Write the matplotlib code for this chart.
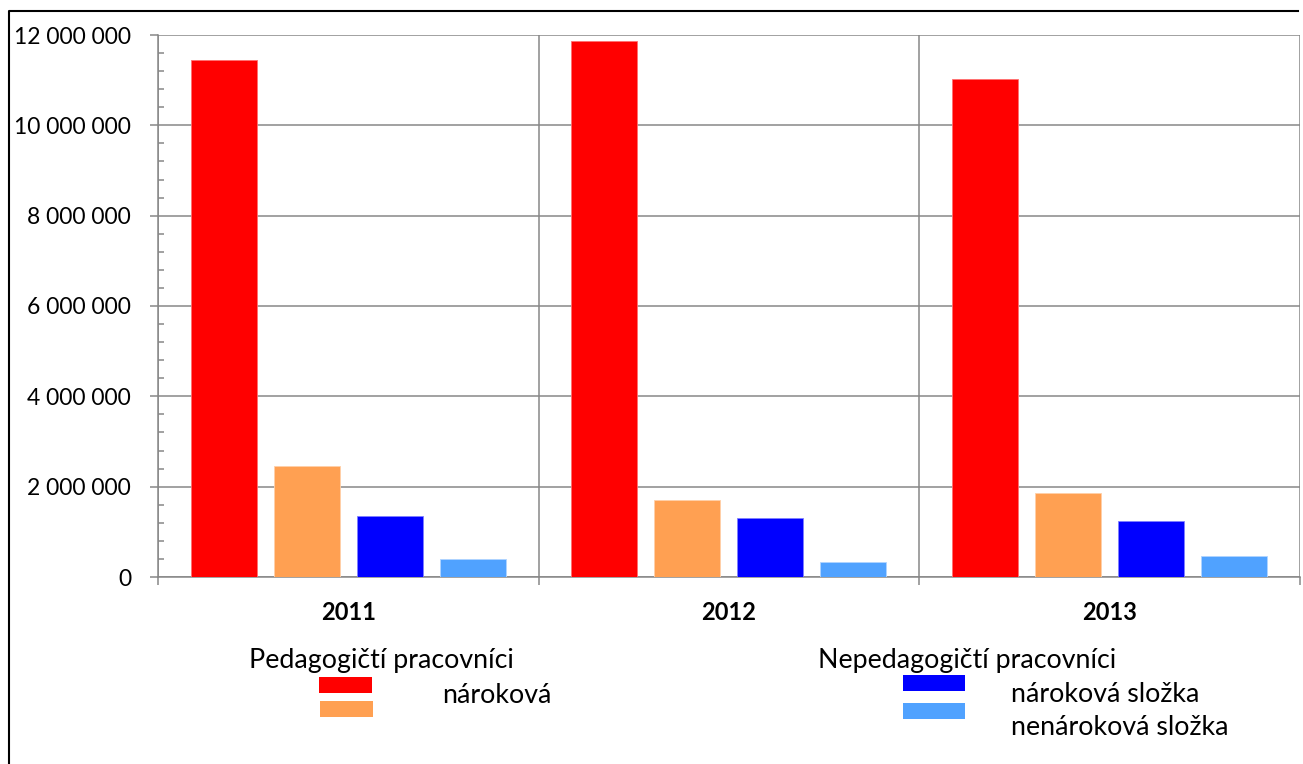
import matplotlib
matplotlib.use("Agg")
import matplotlib.pyplot as plt
from matplotlib.patches import Rectangle
from matplotlib.lines import Line2D
from matplotlib.ticker import MultipleLocator, FuncFormatter
import numpy as np

# ---- data ----
years = ["2011", "2012", "2013"]
series_names = ["Pedagogičtí nároková", "Pedagogičtí nenároková",
                "Nepedagogičtí nároková složka", "Nepedagogičtí nenároková složka"]
ped_narokova = [11450000, 11870000, 11030000]
ped_nenarokova = [2460000, 1700000, 1860000]
neped_narokova = [1350000, 1310000, 1240000]
neped_nenarokova = [400000, 330000, 460000]
colors = ["#FF0000", "#FFA052", "#0000FF", "#50A2FF"]
edge_colors = ["#FF7070", "#FFD0A8", "#8080FF", "#B0D4FF"]

W, H = 1303, 764
plt.rcParams['font.family'] = ['Lato', 'DejaVu Sans']
fig = plt.figure(figsize=(W / 100, H / 100), dpi=100)

def fx(x):
    return x / W

def fy(y):
    return 1 - y / H

ax_l, ax_r, ax_t, ax_b = 158, 1299.5, 35, 577
ax = fig.add_axes([fx(ax_l), fy(ax_b), (ax_r - ax_l) / W, (ax_b - ax_t) / H])

x = np.arange(len(years))
bw = 0.173
step = 0.218
all_series = [ped_narokova, ped_nenarokova, neped_narokova, neped_nenarokova]
for i, vals in enumerate(all_series):
    ax.bar(x + (i - 1.5) * step, vals, width=bw, color=colors[i],
           edgecolor=edge_colors[i], linewidth=0.6, zorder=3)

ax.set_xlim(-0.5, 2.5)
ax.set_ylim(0, 12000000)

grid_c = "#878787"
ax.yaxis.set_major_locator(MultipleLocator(2000000))
ax.yaxis.set_minor_locator(MultipleLocator(400000))
ax.yaxis.set_major_formatter(FuncFormatter(lambda v, p: f"{v:,.0f}".replace(",", " ")))
ax.tick_params(axis='y', which='major', direction='out', length=5.8, width=1.1,
               color=grid_c, labelsize=16.5, pad=13.5, labelcolor='black')
ax.tick_params(axis='y', which='minor', direction='in', length=4.3, width=1.1, color=grid_c)

ax.set_xticks([-0.5, 0.5, 1.5, 2.5])
ax.set_xticklabels([])
ax.set_xticks(x, minor=True)
ax.set_xticklabels(years, minor=True, fontweight='bold', fontsize=17)
ax.tick_params(axis='x', which='major', direction='out', length=5.8, width=1.1, color=grid_c)
ax.tick_params(axis='x', which='minor', length=0, pad=17)

ax.grid(True, which='major', axis='both', color=grid_c, linewidth=1.1, zorder=0)
ax.set_axisbelow(True)
for s in ['top', 'right']:
    ax.spines[s].set_visible(False)
for s in ['left', 'bottom']:
    ax.spines[s].set_color(grid_c)
    ax.spines[s].set_linewidth(1.1)

# ---- outer frame (chart area border) ----
fig.add_artist(Line2D([fx(9), fx(9), fx(1298)], [fy(770), fy(11), fy(11)],
                      color='black', linewidth=1.5, transform=fig.transFigure))

# ---- legend (as drawn in reference) ----
fs = 19.3
fig.text(fx(249), fy(668), "Pedagogičtí pracovníci", fontsize=fs, va='baseline', ha='left')
fig.text(fx(442), fy(703), "nároková", fontsize=fs, va='baseline', ha='left')
fig.text(fx(818), fy(668), "Nepedagogičtí pracovníci", fontsize=fs, va='baseline', ha='left')
fig.text(fx(1011), fy(702), "nároková složka", fontsize=fs, va='baseline', ha='left')
fig.text(fx(1011), fy(735), "nenároková složka", fontsize=fs, va='baseline', ha='left')

legend_boxes = [(319, 677, 53, 16), (320, 701, 53, 16), (903, 675, 62, 16), (903, 703, 62, 16)]
for (bx, by, bwid, bht), c in zip(legend_boxes, colors):
    fig.add_artist(Rectangle((fx(bx), fy(by + bht)), bwid / W, bht / H, facecolor=c,
                             edgecolor='none', transform=fig.transFigure))

fig.savefig("out.png", dpi=100)
